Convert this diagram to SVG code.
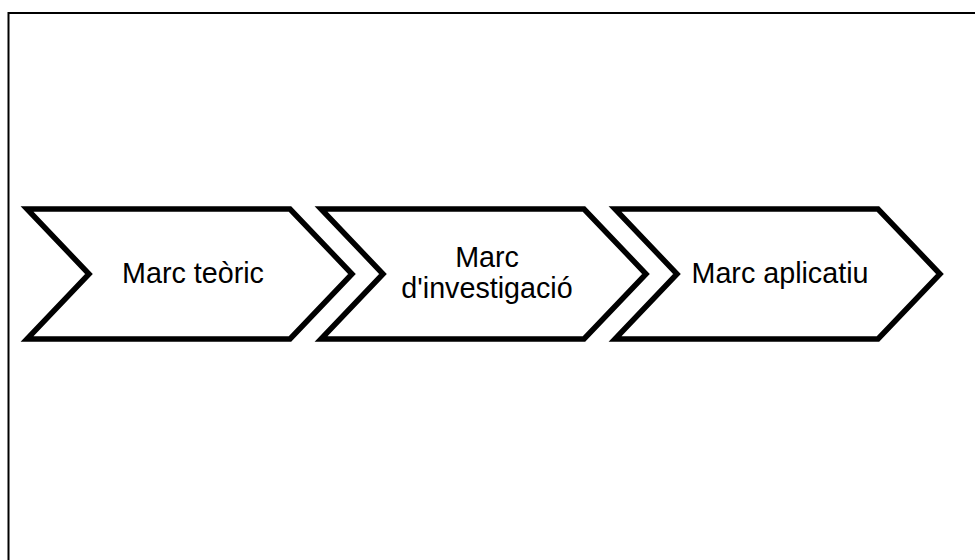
<svg xmlns="http://www.w3.org/2000/svg" width="975" height="560" viewBox="0 0 975 560">
<style>
.frame{fill:none;stroke:#000;stroke-width:2}
.chev{fill:#fff;stroke:#000;stroke-width:5.5;stroke-linejoin:miter}
.lbl{font-family:"Liberation Sans",Arial,sans-serif;font-size:28.7px;fill:#000;text-anchor:middle}
</style>
<rect width="975" height="560" fill="#fff"/>
<rect class="frame" x="8.5" y="13" width="1000" height="600"/>
<g id="node1">
<polygon class="chev" points="27,209 290,209 352,274 290,339 27,339 89,274"/>
<text class="lbl" x="193" y="283">Marc teòric</text>
</g>
<g id="node2">
<polygon class="chev" points="321,209 584,209 646,274 584,339 321,339 383,274"/>
<text class="lbl" x="487" y="267">Marc</text>
<text class="lbl" x="487" y="298">d'investigació</text>
</g>
<g id="node3">
<polygon class="chev" points="615,209 878,209 940,274 878,339 615,339 677,274"/>
<text class="lbl" x="780" y="283">Marc aplicatiu</text>
</g>
<g id="connectors"></g>
</svg>
